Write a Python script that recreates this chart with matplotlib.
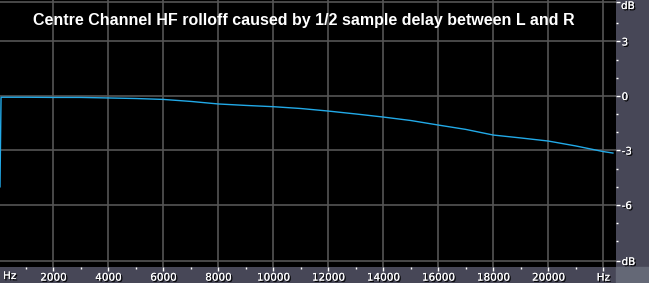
import matplotlib
matplotlib.use("Agg")
import matplotlib.pyplot as plt
import matplotlib.patheffects as pe
from matplotlib.patches import Rectangle

# --- Data ---
freq_hz = [62, 100, 1000, 2000, 3000, 4000, 5000, 6000, 7000, 8000, 9000, 10000,
           11000, 12000, 13000, 14000, 15000, 16000, 17000, 18000, 19000, 20000,
           21000, 22000, 22350]
level_db = [-5.0, -0.07, -0.07, -0.08, -0.08, -0.11, -0.14, -0.19, -0.30, -0.44,
            -0.52, -0.59, -0.69, -0.83, -0.99, -1.16, -1.35, -1.60, -1.84, -2.15,
            -2.31, -2.48, -2.75, -3.06, -3.14]

x_ticks = [2000, 4000, 6000, 8000, 10000, 12000, 14000, 16000, 18000, 20000, 22000]
x_labels = ["2000", "4000", "6000", "8000", "10000", "12000", "14000", "16000",
            "18000", "20000", "Hz"]
y_ticks = [5.17, 3, 0, -3, -6, -9.08]
y_labels = ["", "3", "0", "-3", "-6", "dB"]

TITLE = "Centre Channel HF rolloff caused by 1/2 sample delay between L and R"

# --- Style ---
PANEL = "#474757"
CORNER = "#646876"
GRID = "#555555"
CURVE = "#22aae8"

W, H = 649, 283
fig = plt.figure(figsize=(W / 100, H / 100), dpi=100, facecolor=PANEL)
ax = fig.add_axes([0, 16 / H, 616 / W, 267 / H], facecolor="black")
fig.patches.append(Rectangle((616 / W, 0), 1 - 616 / W, 16 / H,
                             transform=fig.transFigure, color=CORNER, zorder=0))

ax.plot(freq_hz, level_db, color=CURVE, lw=1.0, zorder=3)

ax.set_xlim(62, 22462)
ax.set_ylim(-9.41, 5.28)

shadow = [pe.withSimplePatchShadow(offset=(1, -1), shadow_rgbFace="black", alpha=1),
          pe.Normal()]

ax.set_xticks(x_ticks)
ax.set_xticklabels(x_labels)
ax.set_xticks(range(1000, 23000, 2000), minor=True)
ax.set_yticks(y_ticks)
ax.set_yticklabels(y_labels)
ax.set_yticks([4, 2, 1, -1, -2, -4, -5, -7, -8], minor=True)
ax.yaxis.tick_right()

ax.tick_params(axis="both", which="major", direction="out", length=3, width=1,
               color="white", labelcolor="white", labelsize=7.5, pad=1)
ax.tick_params(axis="both", which="minor", direction="out", length=1.5, width=1,
               color="white")
for lab in ax.get_xticklabels() + ax.get_yticklabels():
    lab.set_path_effects(shadow)

ax.grid(True, which="major", color=GRID, lw=1.2)
for s in ax.spines.values():
    s.set_visible(False)

fig.text(3 / W, 1 - 276 / H, "Hz", color="white", fontsize=7.5, va="center",
         path_effects=shadow)
fig.text(621 / W, 1 - 1 / H, "dB", color="white", fontsize=7.5, va="top",
         path_effects=shadow)

ax.text(0.493, 1 - 20 / 267, TITLE, transform=ax.transAxes, ha="center",
        va="center", color="white", fontsize=11.5, fontweight="bold",
        family="Liberation Sans")

fig.savefig("out.png", dpi=100, facecolor=PANEL)
